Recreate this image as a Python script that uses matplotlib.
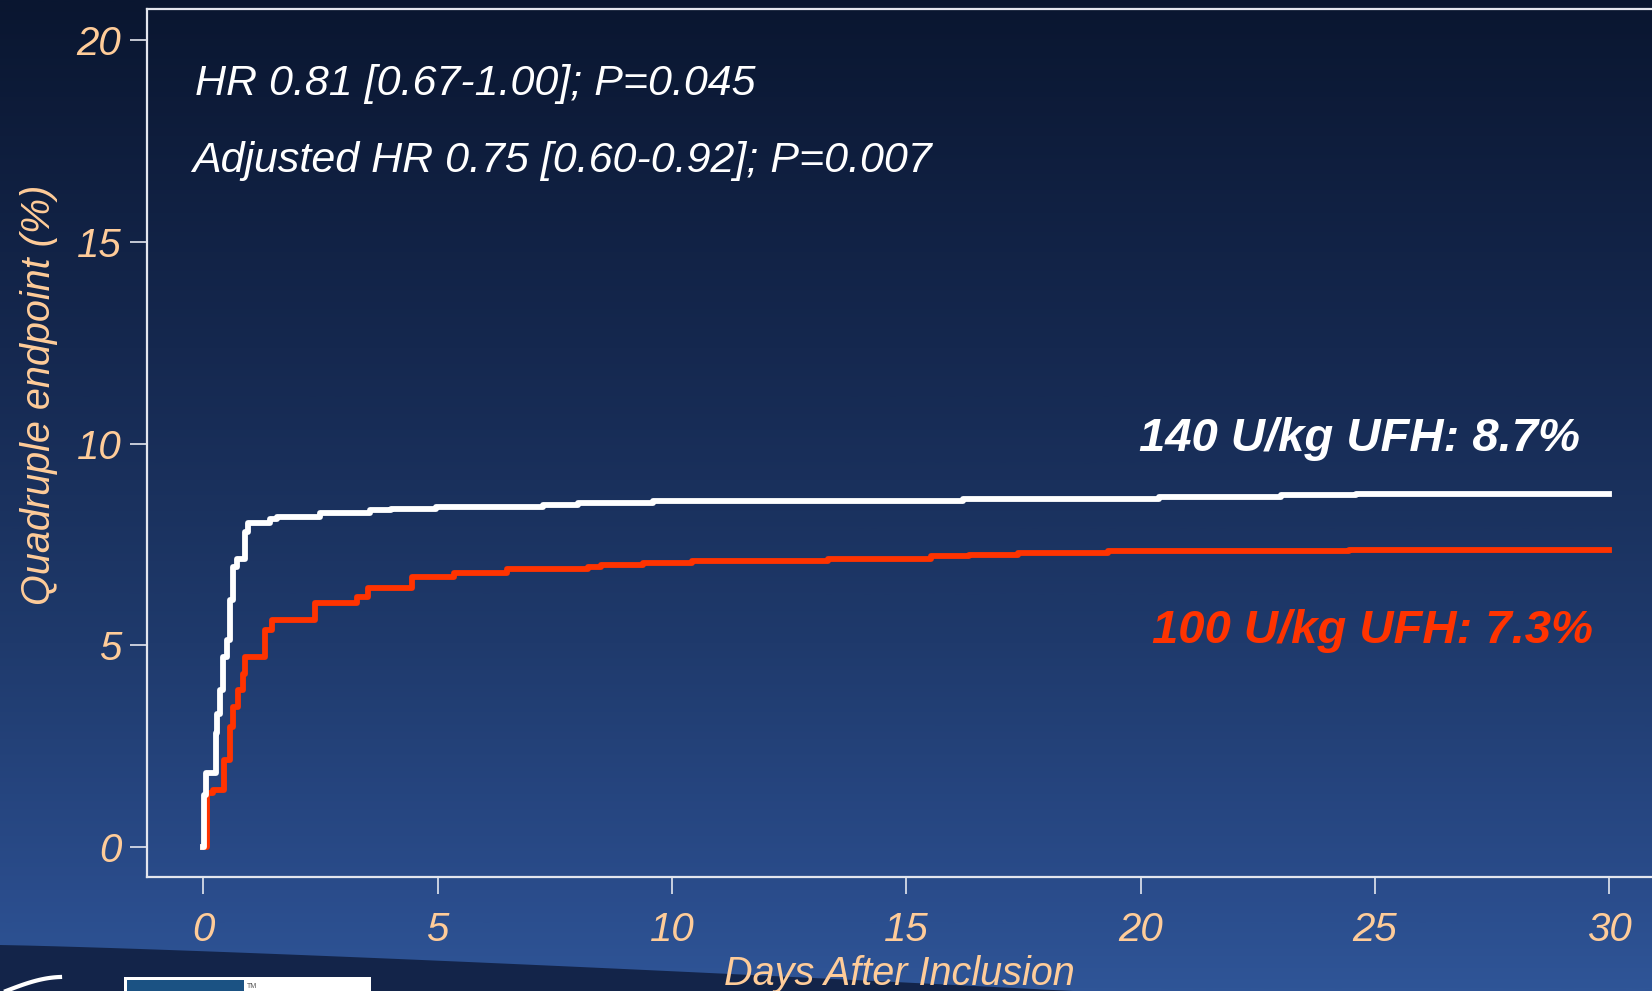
import numpy as np
import matplotlib.pyplot as plt
from matplotlib.colors import LinearSegmentedColormap
from matplotlib.patches import Polygon, Rectangle

W, H = 1652, 991

# Kaplan-Meier curves (days, cumulative %)
days_140 = [0, 0.02, 0.05, 0.27, 0.30, 0.36, 0.43, 0.50, 0.57, 0.64, 0.71,
            0.89, 0.96, 1.42, 1.57, 2.49, 3.56, 4.0, 4.97, 7.25, 8.0, 9.6,
            16.2, 20.4, 23.0, 24.6, 30.0]
rate_140 = [0, 1.3, 1.83, 2.83, 3.3, 3.89, 4.72, 5.13, 6.12, 6.95, 7.15,
            7.81, 8.02, 8.12, 8.19, 8.27, 8.35, 8.39, 8.43, 8.48, 8.52, 8.58,
            8.63, 8.68, 8.72, 8.76, 8.76]

days_100 = [0, 0.07, 0.21, 0.45, 0.57, 0.64, 0.75, 0.85, 0.89, 1.32, 1.46,
            2.38, 3.27, 3.52, 4.45, 5.34, 6.48, 8.2, 8.49, 9.38, 10.43, 13.34,
            15.53, 16.34, 17.38, 19.3, 24.45, 30.0]
rate_100 = [0, 1.33, 1.41, 2.16, 2.98, 3.48, 3.89, 4.30, 4.72, 5.38, 5.63,
            6.04, 6.20, 6.41, 6.70, 6.80, 6.88, 6.95, 6.99, 7.05, 7.10, 7.14,
            7.21, 7.25, 7.29, 7.33, 7.37, 7.37]

x_ticks = [0, 5, 10, 15, 20, 25, 30]
y_ticks = [0, 5, 10, 15, 20]

label_140 = '140 U/kg UFH: 8.7%'
label_100 = '100 U/kg UFH: 7.3%'
stats_1 = 'HR 0.81 [0.67-1.00]; P=0.045'
stats_2 = 'Adjusted HR 0.75 [0.60-0.92]; P=0.007'

PEACH = '#ffcc99'
RED = '#ff3300'

plt.rcParams['font.family'] = ['Liberation Sans', 'DejaVu Sans']


def px(x, y):
    # pixel position (from top-left) -> figure fraction
    return x / W, 1 - y / H


fig = plt.figure(figsize=(W / 100, H / 100), dpi=100)

# slide background
bg = fig.add_axes([0, 0, 1, 1])
cmap = LinearSegmentedColormap.from_list('slide', [
    (0.0, '#0a1630'), (0.35, '#15284f'), (0.65, '#1f3a6c'),
    (0.9, '#2a4c8b'), (1.0, '#2f5597')])
bg.imshow(np.linspace(0, 1, 512).reshape(-1, 1), aspect='auto', cmap=cmap,
          extent=[0, W, H, 0])
sx = np.linspace(0, W, 60)
sy = 945 + 50 * (sx / 1150) ** 1.2
bg.add_patch(Polygon(np.column_stack([np.r_[sx, W, 0], np.r_[sy, H + 5, H + 5]]),
                     closed=True, color='#132449', lw=0))
bg.add_patch(Rectangle((124, 977), 247, 20, color='white', lw=0))
bg.add_patch(Rectangle((127, 980), 117, 20, color='#1b5283', lw=0))
bg.text(247, 986, 'TM', fontsize=5, color='#555555', va='center')
t = np.linspace(0, 1, 30)
bg.plot(6 + 54 * t, 991 - 12 * np.sin(t * np.pi / 2) - 2 * t, color='white', lw=3)
bg.set_xlim(0, W)
bg.set_ylim(H, 0)
bg.axis('off')

# plot area (right edge runs off the slide, as in the original)
ax = fig.add_axes([147 / W, (H - 877) / H, 1532.6 / W, (877 - 9) / H])
ax.set_facecolor('none')
ax.set_xlim(-1.2, 31.5)
ax.set_ylim(-0.743, 20.77)

ax.plot(days_100, rate_100, drawstyle='steps-post', color=RED, lw=4.2)
ax.plot(days_140, rate_140, drawstyle='steps-post', color='white', lw=4.2)

for s in ax.spines.values():
    s.set_color('#e4e6ee')
    s.set_linewidth(1.6)

ax.set_xticks(x_ticks)
ax.set_yticks(y_ticks)
ax.tick_params(direction='out', length=12.5, width=1.2, color='#e4e6ee',
               labelcolor=PEACH, labelsize=29)
ax.tick_params(axis='x', pad=12)
ax.tick_params(axis='y', pad=6)
for lbl in ax.get_xticklabels() + ax.get_yticklabels():
    lbl.set_fontstyle('italic')

fig.text(*px(39, 395), 'Quadruple endpoint (%)', rotation=90, ha='center',
         va='center', fontsize=28.5, style='italic', color=PEACH)
fig.text(*px(899, 985), 'Days After Inclusion', ha='center', va='baseline',
         fontsize=28.5, style='italic', color=PEACH)

fig.text(*px(195, 95), stats_1, ha='left', va='baseline', fontsize=31,
         style='italic', color='white')
fig.text(*px(192, 172), stats_2, ha='left', va='baseline', fontsize=31,
         style='italic', color='white')

fig.text(*px(1580, 451), label_140, ha='right', va='baseline', fontsize=34,
         style='italic', weight='bold', color='white')
fig.text(*px(1593, 643), label_100, ha='right', va='baseline', fontsize=34,
         style='italic', weight='bold', color=RED)

fig.savefig('out.png', dpi=100)
